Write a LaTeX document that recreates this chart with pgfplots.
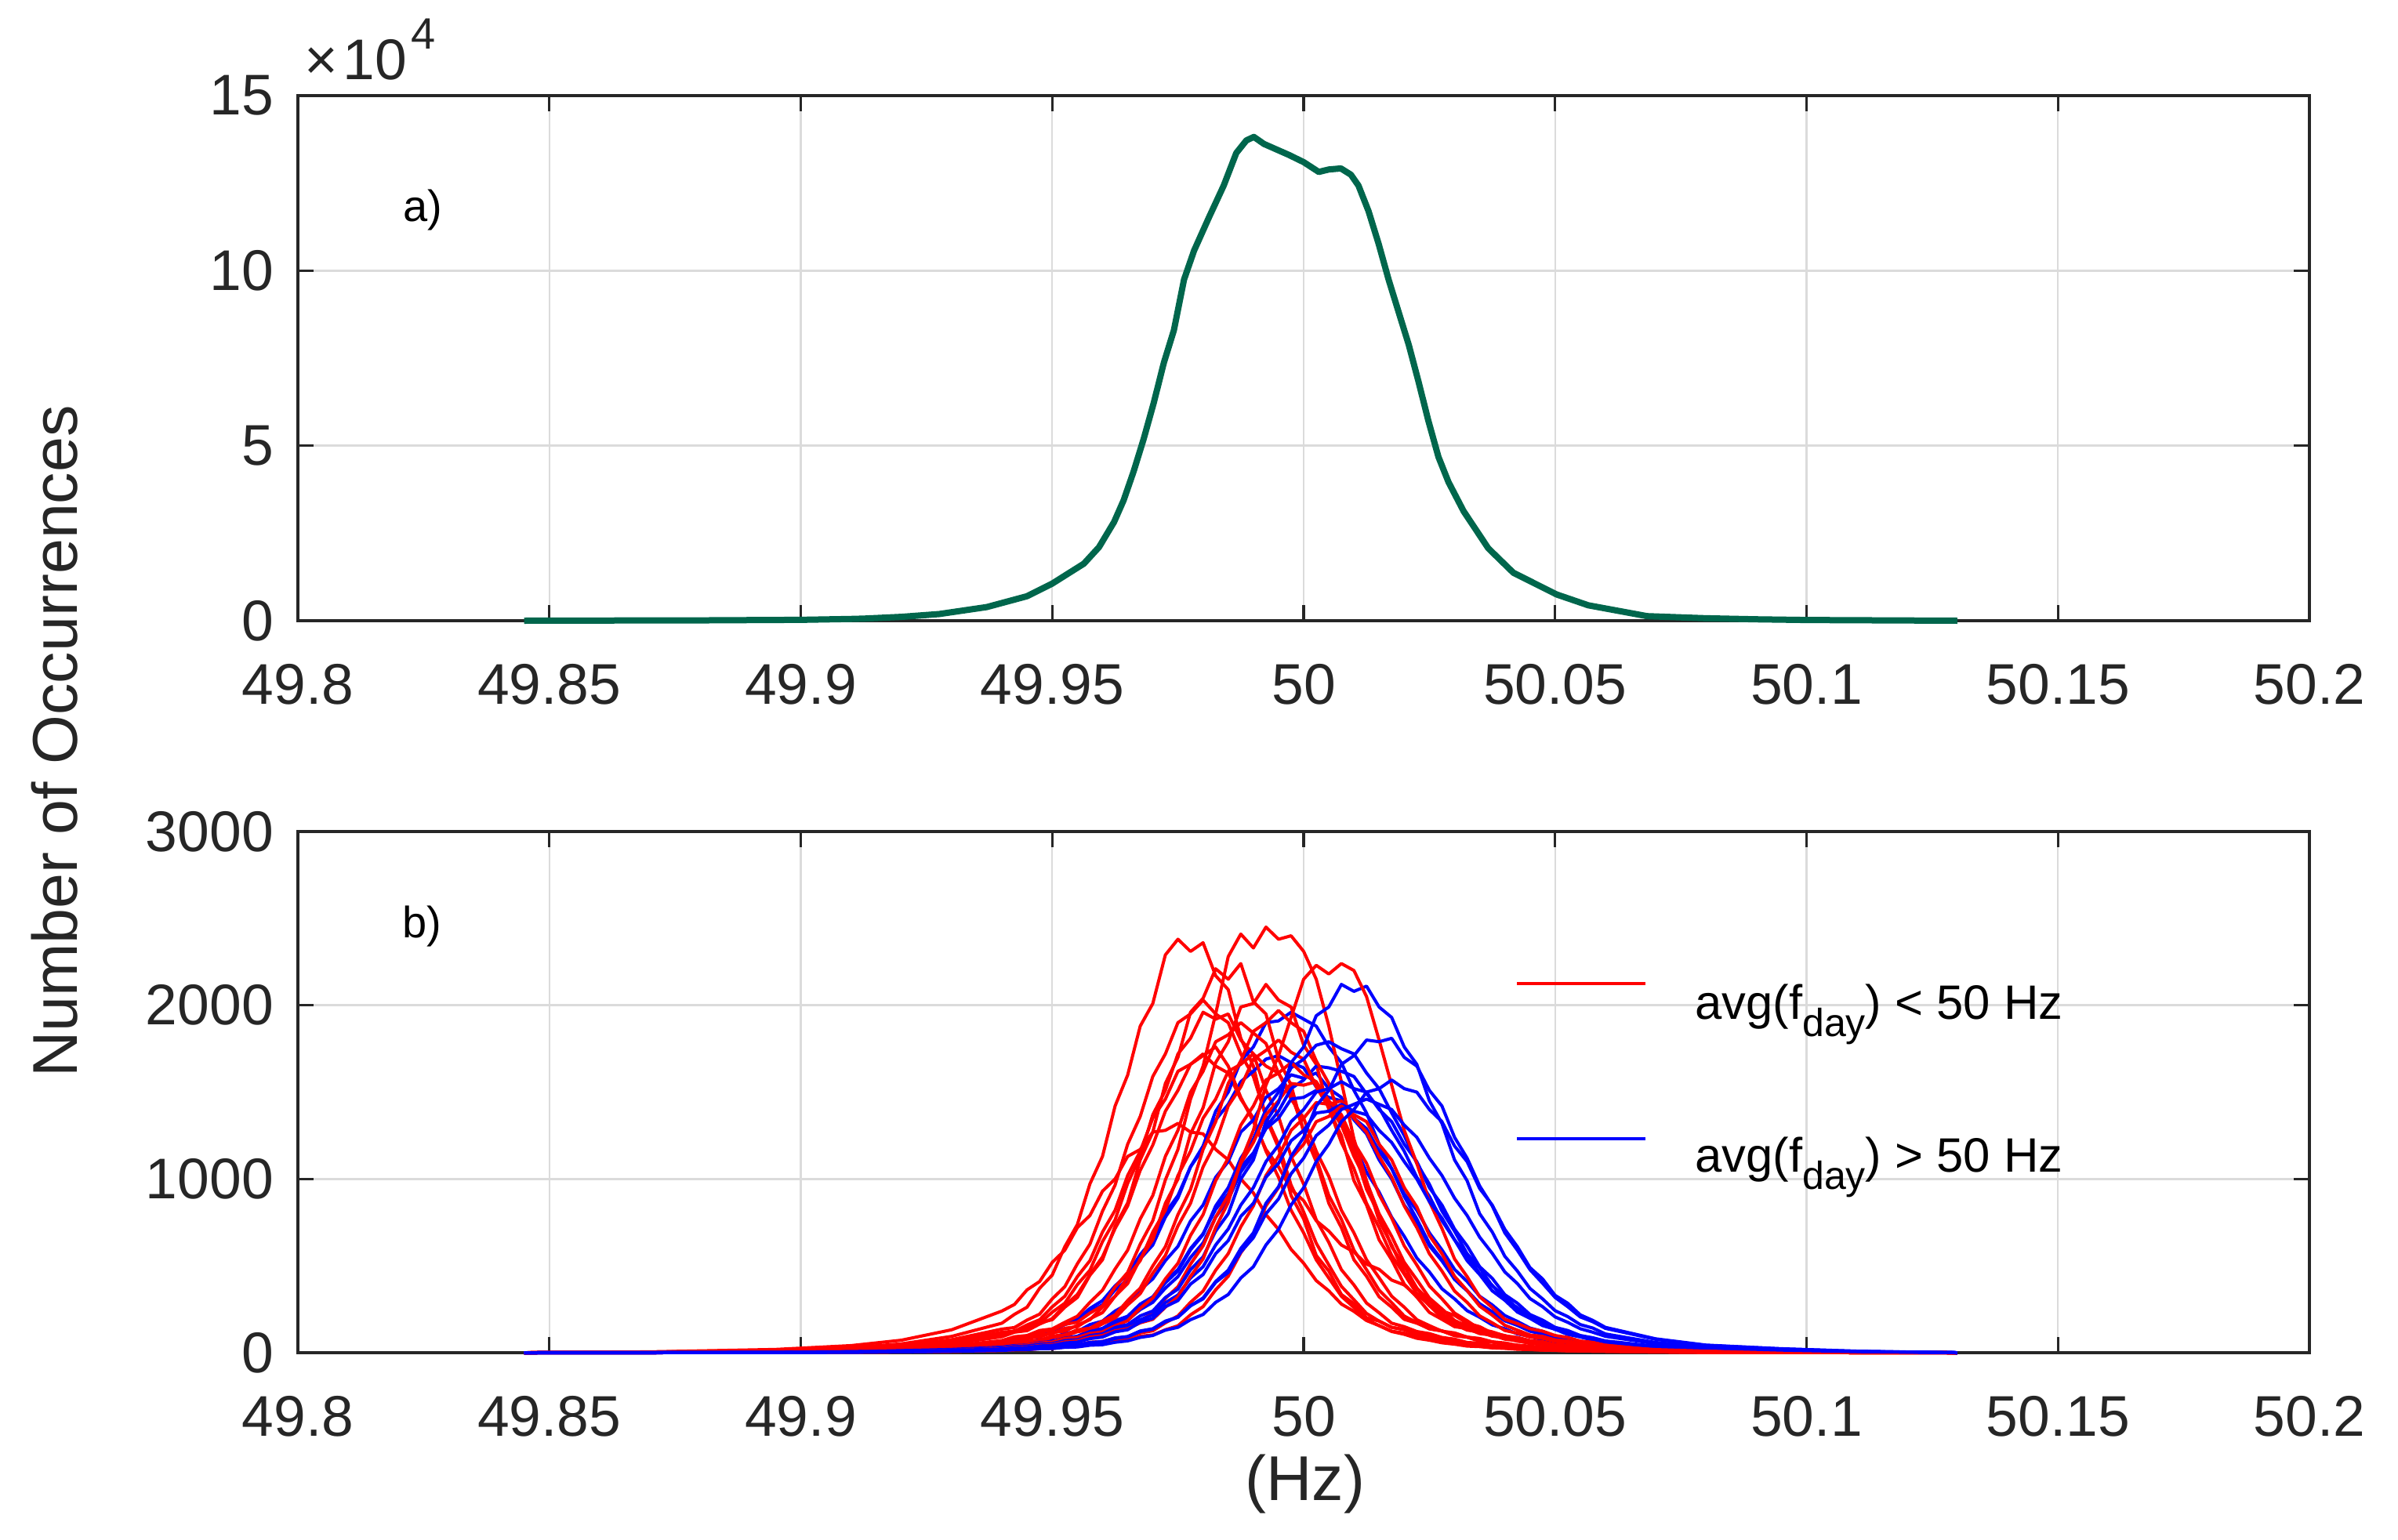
\documentclass[border=0pt]{standalone}
\usepackage{fontspec}
\setmainfont{Liberation Sans}
\usepackage{pgfplots}
\usepackage{pgfplotstable}
\pgfplotsset{compat=1.18}

\definecolor{axgray}{rgb}{0.15,0.15,0.15}
\definecolor{gridgray}{rgb}{0.86,0.86,0.86}
\definecolor{dgreen}{rgb}{0,0.40,0.30}

\pgfplotsset{myax/.style={
  scale only axis, width=641.5pt, anchor=south west,
  xmin=49.8, xmax=50.2,
  xtick={49.8,49.85,49.9,49.95,50,50.05,50.1,50.15,50.2},
  xticklabels={49.8,49.85,49.9,49.95,50,50.05,50.1,50.15,50.2},
  tick align=inside, major tick length=5pt,
  axis line style={draw=axgray, line width=0.8pt},
  tick style={draw=axgray, line width=0.8pt},
  grid=major, grid style={draw=gridgray, line width=0.6pt},
  tick label style={font=\fontsize{18.3}{22}\selectfont, text=axgray},
  xticklabel style={inner sep=0pt, anchor=north, yshift=-13.75pt},
  yticklabel style={inner sep=0pt, anchor=east, xshift=-7.6pt},
  scaled ticks=false, clip=false,
}}
\pgfplotsset{rc/.style={red, line width=1pt, line join=round},
             bc/.style={blue, line width=1pt, line join=round}}

\pgfplotstableread{
name 49.845 49.87 49.895 49.91 49.92 49.93 49.94 49.9425 49.945 49.9475 49.95 49.9525 49.955 49.9575 49.96 49.9625 49.965 49.9675 49.97 49.9725 49.975 49.9775 49.98 49.9825 49.985 49.9875 49.99 49.9925 49.995 49.9975 50 50.0025 50.005 50.0075 50.01 50.0125 50.015 50.0175 50.02 50.0225 50.025 50.0275 50.03 50.0325 50.035 50.0375 50.04 50.0425 50.045 50.0475 50.05 50.0525 50.055 50.0575 50.06 50.07 50.08 50.095 50.11 50.13
R1 0 4 14 29 51 94 170 221 262 371 447 610 738 972 1130 1420 1598 1880 2010 2290 2380 2310 2360 2170 2090 1810 1650 1350 1180 905 770 560 470 335 282 201 182 146 134 104 95 71 66 49 44 33 32 24 23 17 17 13 14 11 10 6 3 1 1 0
R2 0 1 5 11 19 34 62 81 92 118 130 163 176 228 270 378 462 625 760 995 1170 1460 1650 1950 2280 2410 2330 2450 2380 2400 2310 2150 1880 1560 1230 990 760 620 460 372 270 225 176 162 128 117 92 80 63 55 42 37 30 28 22 11 6 2 1 0
R3 0 2 8 17 29 54 98 127 139 172 190 262 318 446 535 728 862 1110 1270 1550 1700 1960 2040 2210 2150 2240 2020 1950 1690 1540 1270 1100 860 720 535 440 322 262 192 170 138 126 98 89 67 61 46 41 31 30 23 21 17 15 12 6 3 1 0 0
R4 0 1 4 9 16 29 52 70 78 103 110 141 150 195 231 325 398 540 650 860 1000 1260 1410 1670 1790 1990 2010 2120 2030 1990 1770 1660 1400 1250 990 850 650 535 395 320 232 192 150 139 110 101 78 69 53 48 35 32 25 24 19 10 5 2 1 0
R5 0 2 9 19 34 62 112 120 152 170 233 285 392 475 640 765 975 1130 1370 1510 1720 1810 1960 1920 1950 1800 1720 1510 1360 1130 970 765 635 478 390 286 230 170 150 122 110 88 78 59 55 41 36 27 26 20 19 15 14 11 11 6 3 1 0 0
R6 0 1 6 12 21 39 70 92 99 128 137 175 210 290 360 482 590 770 905 1130 1280 1500 1620 1790 1830 1900 1840 1780 1610 1490 1280 1120 905 768 590 478 360 288 211 174 137 125 99 91 70 62 48 43 32 29 23 22 17 16 12 6 3 1 0 0
R7 0 1 3 7 12 23 41 45 60 66 88 95 121 130 166 199 275 340 458 560 730 860 1070 1210 1420 1530 1690 1740 1800 1730 1690 1530 1410 1210 1060 860 720 560 452 340 272 200 164 130 119 95 86 66 58 46 40 31 28 22 20 10 5 2 1 0
R8 0 2 9 20 35 65 118 124 160 190 264 325 438 530 695 820 1020 1160 1350 1460 1620 1660 1720 1650 1610 1460 1350 1160 1010 820 690 535 430 325 260 190 156 124 113 90 82 63 56 44 38 29 27 21 19 15 14 11 10 9 8 4 2 1 0 0
R9 0 1 2 5 8 15 28 38 43 55 61 82 88 111 120 155 184 256 315 425 515 675 795 990 1120 1310 1420 1570 1610 1670 1600 1560 1420 1310 1130 985 800 670 520 420 315 252 186 152 121 110 88 80 62 55 43 37 29 26 20 10 5 2 1 0
R10 0 0 1 3 5 8 15 20 21 28 30 41 44 60 65 84 90 114 126 172 212 290 355 475 570 725 845 1020 1130 1280 1350 1440 1430 1450 1350 1270 1130 1010 845 720 570 470 355 290 212 172 128 112 90 83 65 59 44 40 30 15 8 3 1 0
R11 0 0 1 2 4 7 12 16 17 23 24 33 36 48 52 70 74 95 102 132 155 218 265 362 440 575 675 845 950 1120 1200 1330 1360 1420 1370 1330 1200 1110 950 840 675 570 440 358 268 216 158 130 102 94 74 68 52 47 36 18 9 4 1 0
R12 0 0 2 4 7 12 22 30 32 45 47 64 70 90 97 121 136 185 228 312 380 510 615 780 905 1090 1210 1370 1450 1550 1540 1560 1450 1370 1210 1090 910 775 615 505 384 310 228 184 136 120 97 88 70 63 47 43 32 29 22 11 6 2 1 0
R13 0 2 7 16 28 51 92 118 127 165 196 272 335 450 552 715 845 1050 1195 1390 1510 1660 1710 1760 1650 1470 1330 1170 1070 940 875 760 700 620 580 510 480 418 390 325 298 240 215 170 150 112 99 75 66 48 43 31 28 21 18 9 5 2 1 0
R14 0 5 19 41 72 132 240 278 362 410 520 590 720 790 930 1000 1130 1170 1270 1280 1320 1270 1260 1170 1110 1000 920 795 710 595 515 415 356 280 238 185 156 122 106 83 72 57 49 38 35 28 25 20 18 15 13 11 10 9 8 4 2 1 0 0
R16 0 0 2 4 7 13 23 30 31 42 46 62 68 90 99 126 138 172 192 262 322 440 540 720 865 1100 1280 1540 1710 1930 2150 2230 2180 2240 2200 2050 1800 1540 1280 1090 870 715 540 438 322 260 192 168 138 124 99 88 67 60 46 23 12 5 2 0
R17 0 1 5 10 17 31 57 63 84 90 116 124 159 190 262 325 436 530 695 820 1020 1160 1350 1460 1620 1660 1720 1650 1610 1460 1350 1160 1015 820 690 535 432 325 262 190 156 124 114 90 82 63 56 43 38 29 27 20 19 15 14 7 4 1 1 0
R18 0 3 11 23 41 75 136 145 188 222 310 380 512 625 815 965 1200 1360 1590 1720 1900 1950 2030 1950 1900 1720 1590 1360 1200 965 810 630 505 382 305 226 182 146 132 106 96 75 66 52 45 34 31 25 22 18 16 13 12 10 10 5 3 1 0 0
R19 0 1 4 8 14 25 45 50 65 72 96 103 132 141 182 218 300 372 500 610 795 940 1170 1330 1550 1680 1850 1900 1970 1900 1850 1680 1550 1330 1170 940 795 610 498 372 300 218 180 141 130 103 94 73 64 50 44 33 30 24 21 11 5 2 1 0
B1 0 1 2 5 10 16 27 36 38 49 52 69 74 99 108 145 162 212 240 318 366 478 552 700 800 1000 1110 1330 1440 1670 1760 1940 1990 2120 2080 2110 1990 1930 1760 1660 1450 1320 1110 990 800 695 555 470 370 310 242 208 162 142 108 59 32 17 6 0
B2 0 1 5 12 21 35 58 75 84 110 124 162 182 238 276 362 420 540 620 780 890 1070 1190 1390 1500 1680 1760 1900 1910 1960 1920 1880 1760 1670 1510 1380 1200 1060 900 770 628 535 422 356 278 234 185 158 125 108 85 74 58 52 41 23 12 7 2 0
B3 0 0 2 3 6 10 17 23 24 31 33 42 45 59 64 85 93 125 138 182 205 270 315 410 475 600 690 860 955 1130 1240 1420 1510 1660 1710 1800 1790 1810 1700 1650 1510 1420 1240 1120 960 845 690 590 478 400 318 265 206 178 140 77 42 22 8 0
B4 0 0 1 3 5 8 13 17 18 23 24 31 33 43 46 60 68 88 99 130 146 190 220 290 335 430 495 620 710 850 950 1100 1200 1330 1400 1500 1520 1570 1520 1500 1400 1330 1190 1100 945 850 710 610 490 425 330 285 218 186 146 80 44 23 9 0
B5 0 1 3 6 10 17 29 38 41 54 58 78 85 114 128 168 188 248 290 372 438 548 632 780 880 1040 1140 1300 1390 1520 1570 1650 1640 1620 1590 1490 1410 1280 1160 1010 900 760 650 530 450 356 302 234 198 156 135 105 91 72 60 33 18 10 4 0
B6 0 1 4 8 14 24 40 53 56 76 82 112 122 162 182 240 280 362 425 530 612 758 850 1010 1100 1270 1340 1470 1520 1600 1580 1610 1520 1470 1340 1260 1110 1000 850 752 615 528 425 358 282 236 184 158 124 108 83 74 57 51 40 22 12 6 2 0
B7 0 0 2 5 9 14 24 31 32 43 46 61 67 89 98 130 145 190 218 288 332 430 495 620 712 850 950 1100 1195 1330 1400 1500 1520 1560 1520 1500 1400 1330 1200 1100 950 850 712 615 495 428 334 285 220 188 146 128 99 86 68 37 20 11 4 0
B8 0 1 3 6 11 19 31 41 45 59 65 85 95 126 140 184 210 280 322 415 478 600 685 825 915 1070 1150 1290 1350 1460 1470 1510 1470 1450 1350 1290 1160 1060 915 820 690 592 480 410 325 275 214 180 142 123 96 83 66 57 45 25 14 7 3 0
B9 0 0 1 3 6 10 16 21 22 30 31 40 43 57 62 82 92 122 136 178 204 270 310 405 462 580 662 800 885 1030 1120 1250 1310 1400 1430 1460 1430 1400 1310 1240 1120 1020 890 790 665 572 465 398 312 265 206 175 138 118 94 52 28 15 6 0
B10 0 0 2 4 8 13 22 28 30 39 42 56 61 81 90 120 132 176 198 265 300 395 450 570 645 785 860 1010 1090 1220 1280 1380 1390 1430 1390 1370 1280 1210 1100 1000 870 775 650 560 455 388 305 260 200 172 134 116 91 79 62 34 19 10 4 0
B11 0 1 5 12 22 36 60 80 88 118 130 172 195 255 300 385 450 565 650 805 905 1070 1175 1340 1430 1560 1620 1690 1710 1670 1640 1530 1450 1310 1200 1040 925 780 670 545 465 368 310 242 204 160 138 108 94 74 64 50 45 35 32 18 10 5 2 0
B12 0 1 3 6 12 19 32 41 44 58 63 84 92 122 138 180 204 266 312 402 470 592 680 845 950 1120 1230 1400 1500 1640 1690 1770 1790 1750 1720 1610 1520 1380 1250 1090 970 815 700 570 488 385 325 252 214 168 145 112 98 77 64 35 19 10 4 0
}\rawcurves
\pgfplotstabletranspose[colnames from=name, input colnames to=x]\curves\rawcurves

\begin{document}
\begin{tikzpicture}
\begin{axis}[myax, at={(95pt,293pt)}, height=167.5pt,
  ymin=0, ymax=150000, ytick={0,50000,100000,150000}, yticklabels={0,5,10,15}]
\addplot[dgreen, line width=2pt, line join=round] coordinates {
(49.845,0) (49.86,50) (49.88,100) (49.9,250) (49.91,500) (49.9126,600) (49.92,1100)
(49.9275,1900) (49.937,3900) (49.945,7000) (49.95,10600) (49.9563,16300) (49.9593,21000)
(49.9623,28200) (49.9642,34400) (49.9662,42700) (49.9682,52000) (49.9702,62300) (49.9722,73700)
(49.9742,83000) (49.9762,97400) (49.9782,105700) (49.9811,115000) (49.9841,124300) (49.9866,133600)
(49.9886,137200) (49.9901,138200) (49.9921,136200) (49.997,133100) (50,131000) (50.003,128200)
(50.005,128900) (50.0074,129200) (50.0094,127400) (50.0109,124300) (50.0129,117000) (50.0149,107700)
(50.0169,97400) (50.0189,88100) (50.0209,78800) (50.0228,68500) (50.0248,57100) (50.0268,46800)
(50.0288,39600) (50.0318,31300) (50.0367,20700) (50.0417,13700) (50.0503,7500) (50.0566,4400)
(50.0683,1300) (50.08,700) (50.09,400) (50.1,200) (50.115,100) (50.13,0)};
\end{axis}

\begin{axis}[myax, at={(95pt,59.5pt)}, height=166.25pt,
  ymin=0, ymax=3000, ytick={0,1000,2000,3000}, yticklabels={0,1000,2000,3000}]
\addplot[rc] table[x=x, y=R14] {\curves};
\addplot[rc] table[x=x, y=R1] {\curves};
\addplot[rc] table[x=x, y=R18] {\curves};
\addplot[bc] table[x=x, y=B11] {\curves};
\addplot[rc] table[x=x, y=R8] {\curves};
\addplot[rc] table[x=x, y=R5] {\curves};
\addplot[bc] table[x=x, y=B2] {\curves};
\addplot[rc] table[x=x, y=R3] {\curves};
\addplot[rc] table[x=x, y=R13] {\curves};
\addplot[bc] table[x=x, y=B6] {\curves};
\addplot[rc] table[x=x, y=R6] {\curves};
\addplot[rc] table[x=x, y=R17] {\curves};
\addplot[bc] table[x=x, y=B8] {\curves};
\addplot[rc] table[x=x, y=R2] {\curves};
\addplot[rc] table[x=x, y=R4] {\curves};
\addplot[bc] table[x=x, y=B5] {\curves};
\addplot[rc] table[x=x, y=R19] {\curves};
\addplot[rc] table[x=x, y=R7] {\curves};
\addplot[bc] table[x=x, y=B12] {\curves};
\addplot[rc] table[x=x, y=R9] {\curves};
\addplot[rc] table[x=x, y=R12] {\curves};
\addplot[bc] table[x=x, y=B7] {\curves};
\addplot[rc] table[x=x, y=R10] {\curves};
\addplot[bc] table[x=x, y=B1] {\curves};
\addplot[rc] table[x=x, y=R16] {\curves};
\addplot[bc] table[x=x, y=B10] {\curves};
\addplot[rc] table[x=x, y=R11] {\curves};
\addplot[bc] table[x=x, y=B9] {\curves};
\addplot[bc] table[x=x, y=B3] {\curves};
\addplot[bc] table[x=x, y=B4] {\curves};
\end{axis}

% annotations
\node[anchor=base west, inner sep=0pt, font=\fontsize{18.3}{22}\selectfont, text=axgray]
  at (97pt,465.5pt) {×\hspace{1.5pt}10\hspace{1.5pt}\raisebox{9.75pt}{\fontsize{14}{16}\selectfont 4}};
\node[anchor=base west, inner sep=0pt, font=\fontsize{14}{16}\selectfont] at (128.5pt,420.25pt) {a)};
\node[anchor=base west, inner sep=0pt, font=\fontsize{14}{16}\selectfont] at (128.25pt,192pt) {b)};
\node[rotate=90, inner sep=0pt, font=\fontsize{20.2}{24}\selectfont, text=axgray] at (17.5pt,254.5pt) {Number of Occurrences};
\node[inner sep=0pt, font=\fontsize{20.2}{24}\selectfont, text=axgray] at (416.25pt,17.5pt) {(Hz)};
\draw[red, line width=0.8pt] (483.75pt,177.25pt) -- (524.75pt,177.25pt);
\draw[blue, line width=0.8pt] (483.75pt,127.75pt) -- (524.75pt,127.75pt);
\node[anchor=base west, inner sep=0pt, font=\fontsize{15.4}{18}\selectfont] at (540.4pt,166pt)
  {avg(f\raisebox{-5.5pt}{\fontsize{12.5}{14}\selectfont day}) < 50 Hz};
\node[anchor=base west, inner sep=0pt, font=\fontsize{15.4}{18}\selectfont] at (540.4pt,117.25pt)
  {avg(f\raisebox{-5.5pt}{\fontsize{12.5}{14}\selectfont day}) > 50 Hz};
\pgfresetboundingbox
\path[use as bounding box] (0,0) rectangle (764.75pt,491pt);
\end{tikzpicture}
\end{document}
